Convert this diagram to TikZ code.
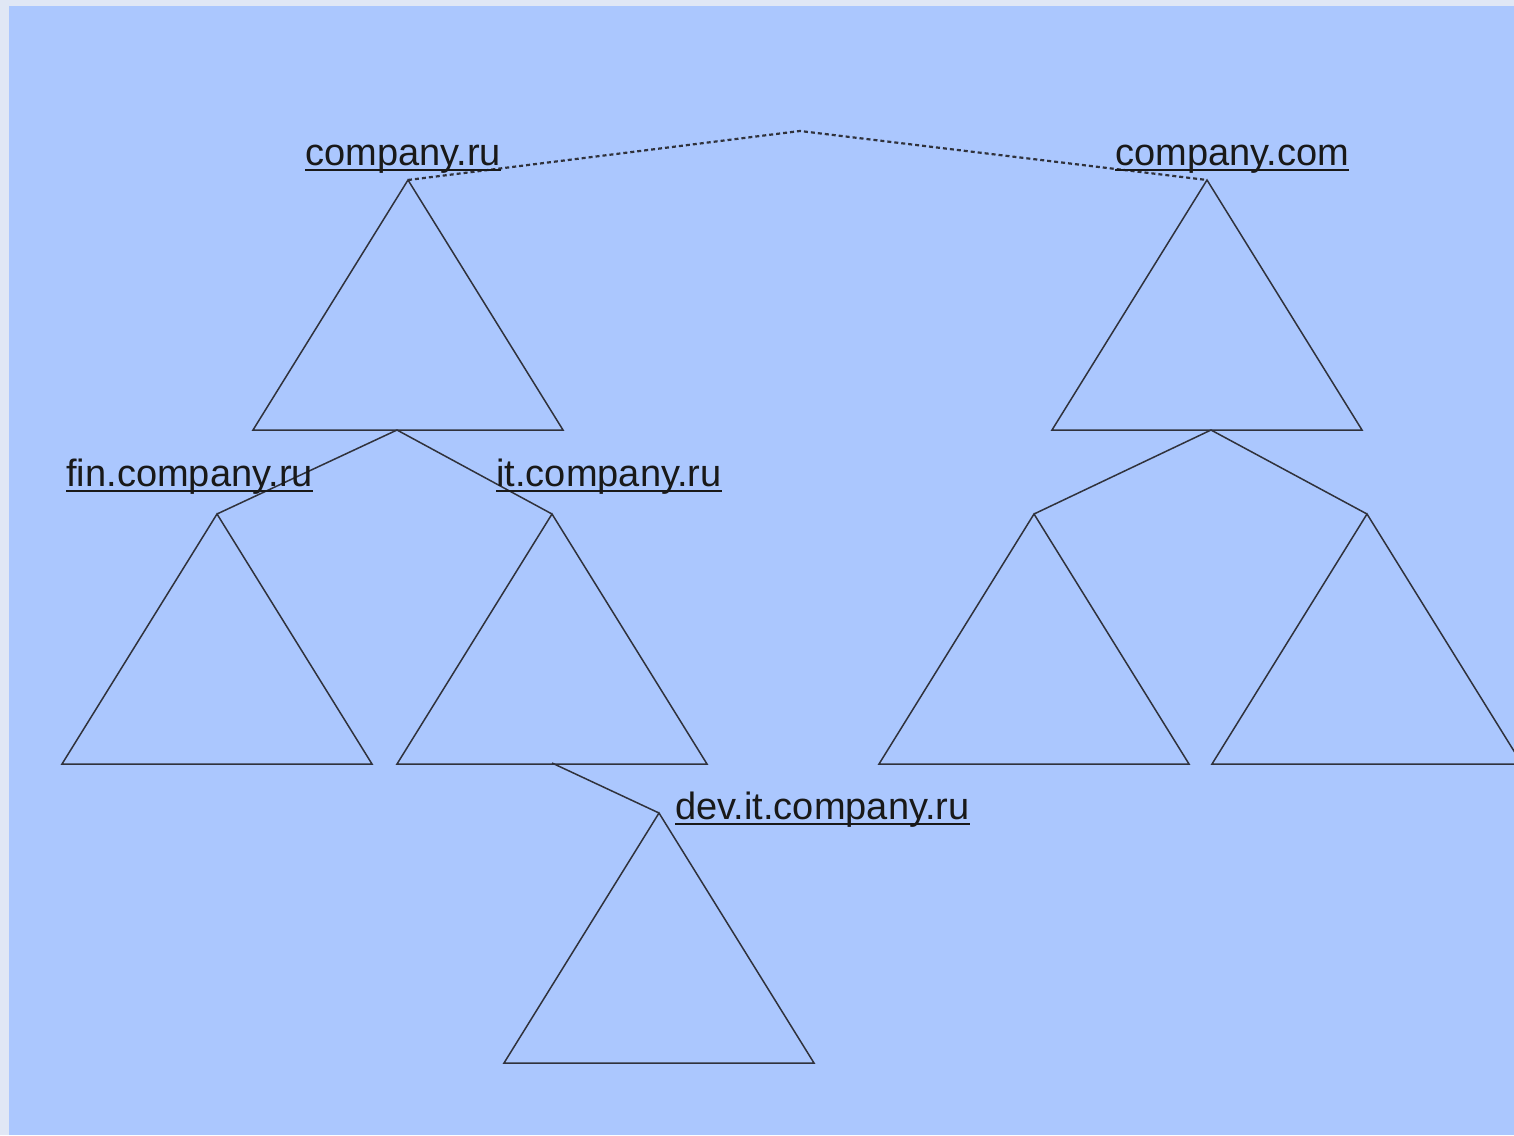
\documentclass[tikz,border=0pt]{standalone}
\usepackage{fontspec}
\setmainfont{Liberation Sans}
\definecolor{pageframe}{HTML}{E0E7F5}
\definecolor{slidebg}{HTML}{ABC7FE}
\definecolor{inkline}{HTML}{30323C}
\newcommand{\undertext}[1]{\setbox0\hbox{#1}\rlap{\rule[-3pt]{\wd0}{1pt}}\box0}
\newcommand{\domtri}[1]{\draw[treeline] (#1) -- ++(-155,250) -- ++(310,0) -- cycle;}
\begin{document}
\begin{tikzpicture}[x=0.5pt, y=-0.5pt,
  treeline/.style={draw=inkline, line width=0.75pt, line join=miter},
  dnslabel/.style={anchor=base west, inner sep=0pt, text=black!90,
    font=\fontsize{19}{23}\selectfont}]
\fill[pageframe] (0,0) rectangle (1514,1135);
\fill[slidebg] (9,6) rectangle (1514,1135);
\clip (0,0) rectangle (1514,1135);
% apexes of the subtrees
\coordinate (ru) at (408,180);
\coordinate (com) at (1207,180);
\coordinate (fin) at (217,514);
\coordinate (it) at (552,514);
\coordinate (dev) at (659,813);
\coordinate (comA) at (1034,514);
\coordinate (comB) at (1367,514);
\coordinate (top) at (800,131);
% joints under the bases
\coordinate (ruJ) at (397,430);
\coordinate (comJ) at (1211,430);
\coordinate (itJ) at (552,763);
\domtri{ru}
\domtri{com}
\domtri{fin}
\domtri{it}
\domtri{dev}
\domtri{comA}
\domtri{comB}
\draw[treeline, line width=1.1pt, dash pattern=on 2pt off 1.5pt] (ru) -- (top) -- (com);
\draw[treeline] (fin) -- (ruJ) -- (it);
\draw[treeline] (comA) -- (comJ) -- (comB);
\draw[treeline] (itJ) -- (dev);
\node[dnslabel] (ruL) at (305,165) {\undertext{company.ru}};
\node[dnslabel] (comL) at (1115,165) {\undertext{company.com}};
\node[dnslabel] (finL) at (66,486) {\undertext{fin.company.ru}};
\node[dnslabel] (itL) at (496,486) {\undertext{it.company.ru}};
\node[dnslabel] (devL) at (675,819) {\undertext{dev.it.company.ru}};
\end{tikzpicture}
\end{document}
